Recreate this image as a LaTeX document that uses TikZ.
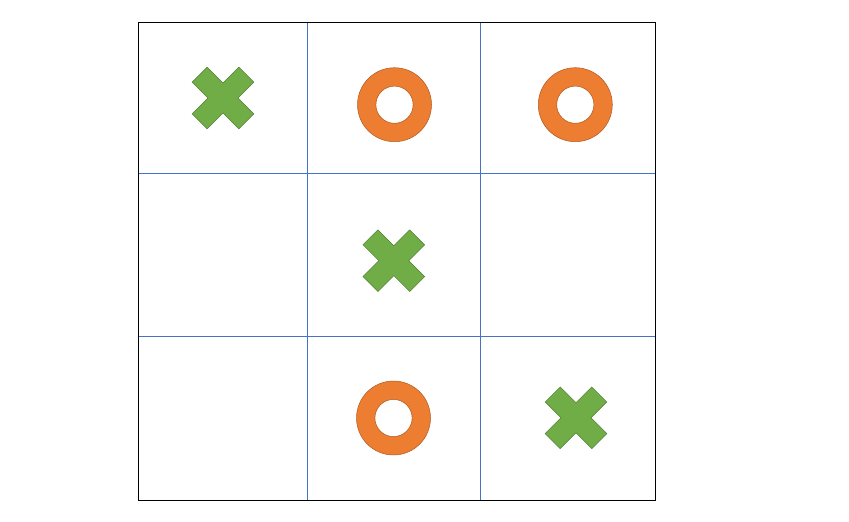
\documentclass[tikz,border=0pt]{standalone}
\usepackage[svgnames]{xcolor}
\definecolor{GridBlue}{HTML}{4472C4}
\definecolor{RingOrange}{HTML}{ED7D31}
\definecolor{RingEdge}{HTML}{AE5A21}
\definecolor{CrossGreen}{HTML}{70AD47}
\definecolor{CrossEdge}{HTML}{507E32}

\begin{document}
\begin{tikzpicture}[x=1pt, y=-1pt, line width=0.8pt,
      board/.style={draw=black, line width=1pt},
      grid/.style={draw=GridBlue, line width=0.9pt},
      ring/.style={fill=RingOrange, draw=RingEdge, line width=0.5pt, even odd rule},
      cross/.style={fill=CrossGreen, draw=CrossEdge, line width=0.5pt}]
    \useasboundingbox (0,0) rectangle (849,522);
    % cell centres
    \coordinate (c11) at (223,98);
    \coordinate (c12) at (394.5,104.7);
    \coordinate (c13) at (575.3,104.7);
    \coordinate (c22) at (393.8,260.7);
    \coordinate (c32) at (393.5,418);
    \coordinate (c33) at (576,417.8);
    % grid
    \draw[grid] (307,22) -- (307,500) (480,22) -- (480,500);
    \draw[grid] (138,173) -- (655,173) (138,336) -- (655,336);
    \draw[board] (138,22) rectangle (655,500);
    % noughts
    \foreach \c in {c12,c13,c32}
      \draw[ring] (\c) circle[radius=37] (\c) circle[radius=18.6];
    % crosses
    \foreach \c in {c11,c22,c33}
      \draw[cross, shift={(\c)}, rotate=45]
        (10.6,10.6) -- (10.6,33) -- (-10.6,33) -- (-10.6,10.6) -- (-33,10.6) -- (-33,-10.6)
        -- (-10.6,-10.6) -- (-10.6,-33) -- (10.6,-33) -- (10.6,-10.6) -- (33,-10.6) -- (33,10.6) -- cycle;
\end{tikzpicture}
\end{document}
